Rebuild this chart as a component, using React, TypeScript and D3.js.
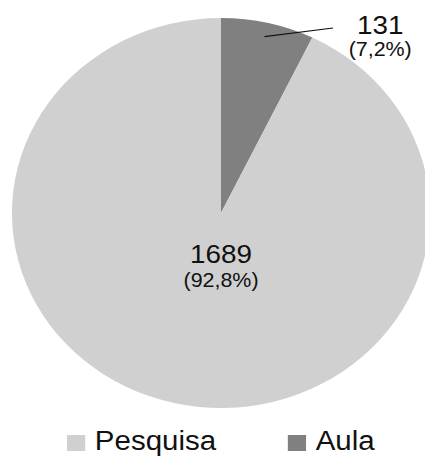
import React from "react";
import * as d3 from "d3";

const categories = ["Aula", "Pesquisa"];
const values = [131, 1689];
const percentLabels = ["(7,2%)", "(92,8%)"];
const legendOrder = ["Pesquisa", "Aula"];
const colors: Record<string, string> = { Aula: "#808080", Pesquisa: "#d0d0d0" };

export default function App() {
  const W = 425;
  const H = 456;
  const cx = 221;
  const cy = 213;
  const r = 195;
  const sx = 1.072;

  const data = categories.map((c, i) => ({ c, v: values[i], p: percentLabels[i] }));
  const pie = d3.pie<any>().value((d) => d.v).sort(null).startAngle(0);
  const arcs = pie(data);
  const arc = d3.arc<any>().innerRadius(0).outerRadius(r);

  const aula = arcs[0];
  const mid = (aula.startAngle + aula.endAngle) / 2;
  const lx0 = Math.sin(mid) * 181;
  const ly0 = -Math.cos(mid) * 181;

  const font = "'Liberation Sans', Arial, sans-serif";

  return (
    <svg width={W} height={H} style={{ position: "absolute", left: 0, top: 0 }}>
      <rect width={W} height={H} fill="#fff" />
      <g transform={`translate(${cx},${cy}) scale(${sx},1)`}>
        {arcs.map((a, i) => (
          <path key={i} d={arc(a) as string} fill={colors[a.data.c]} />
        ))}
        <line x1={lx0} y1={ly0} x2={104.5} y2={-185} stroke="#111" strokeWidth={1.2} />
        <text x={148.5} y={-179} textAnchor="middle" fontFamily={font} fontSize={26} fill="#111">
          {values[0]}
        </text>
        <text x={148.5} y={-157} textAnchor="middle" fontFamily={font} fontSize={20} fill="#111">
          {percentLabels[0]}
        </text>
        <text x={0} y={50} textAnchor="middle" fontFamily={font} fontSize={26} fill="#111">
          {values[1]}
        </text>
        <text x={0} y={74} textAnchor="middle" fontFamily={font} fontSize={20} fill="#111">
          {percentLabels[1]}
        </text>
      </g>
      <g transform={`scale(${sx},1)`}>
        {legendOrder.map((c, i) => {
          const x0 = i === 0 ? 62.5 : 268.5;
          return (
            <g key={c}>
              <rect x={x0} y={435} width={17} height={16} fill={colors[c]} />
              <text x={x0 + 26} y={450} fontFamily={font} fontSize={27.5} fill="#111">
                {c}
              </text>
            </g>
          );
        })}
      </g>
    </svg>
  );
}
